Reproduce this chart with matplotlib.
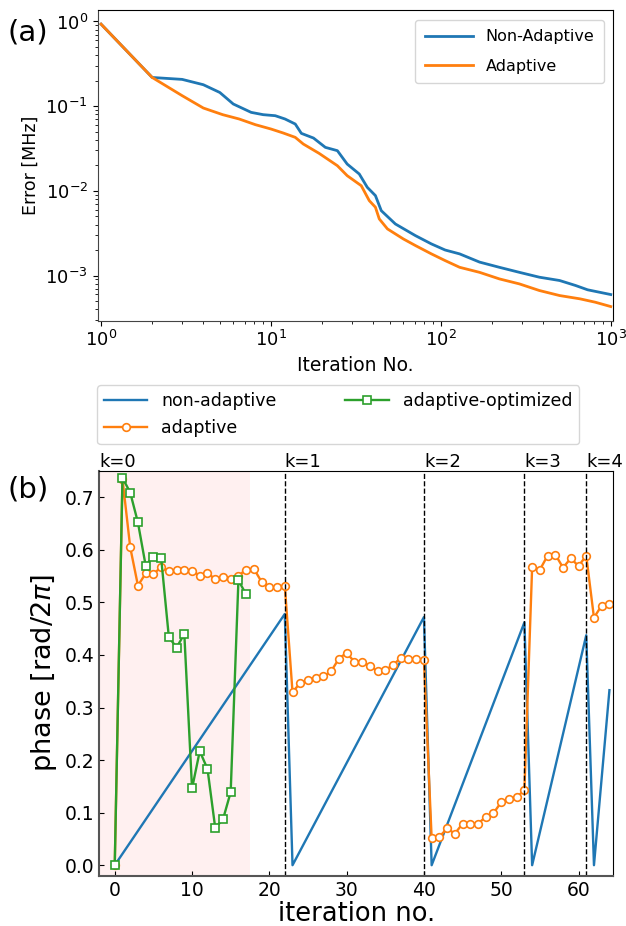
import numpy as np
import matplotlib
matplotlib.use("Agg")
import matplotlib.pyplot as plt

# (a) error vs iteration
iters_na = [1, 2, 3, 4, 5, 6, 7.65, 9, 10.6, 12.1, 13.9, 15.1, 17.8, 20.9, 24.6, 28.1, 33.1, 36.9,
            41.2, 44.6, 54, 70.8, 88, 106, 129, 169, 221, 290, 380, 500, 621, 731, 1000]
err_na = [0.93, 0.218, 0.207, 0.179, 0.145, 0.106, 0.0844, 0.0793, 0.0771, 0.0705, 0.0615, 0.0477,
          0.042, 0.0326, 0.0298, 0.0207, 0.0158, 0.011, 0.00878, 0.00583, 0.00406, 0.00296, 0.00236,
          0.0020, 0.0018, 0.00144, 0.00125, 0.00109, 0.000955, 0.000873, 0.000762, 0.000678, 0.000596]
iters_ad = [1, 2, 3, 4, 5.2, 6.5, 8.1, 10, 11.8, 13.9, 15.5, 19.2, 24.6, 28.1, 34.0, 37.9, 41.2, 43.4,
            48.5, 60.2, 70.8, 88, 106, 129, 169, 221, 290, 380, 500, 660, 810, 1000]
err_ad = [0.93, 0.218, 0.133, 0.095, 0.0793, 0.0705, 0.0604, 0.0537, 0.0482, 0.0428, 0.0357, 0.0277,
          0.0198, 0.0151, 0.0115, 0.00766, 0.0064, 0.00466, 0.00355, 0.0027, 0.00226, 0.0018, 0.0015,
          0.00125, 0.00109, 0.000912, 0.000796, 0.000665, 0.00058, 0.00053, 0.000484, 0.00043]

# (b) phase per iteration
# non-adaptive: sawtooth, vertices only
na_x = [0, 22, 23, 40, 41, 53, 54, 61, 62, 64]
na_phase = [0.0, 0.478, 0.0, 0.472, 0.0, 0.462, 0.0, 0.4375, 0.0, 0.333]

# adaptive, one value per iteration 0..64
ad_phase = [0.0, 0.735, 0.605, 0.532, 0.555, 0.554, 0.567, 0.559, 0.562, 0.562, 0.560,
            0.551, 0.556, 0.544, 0.548, 0.545, 0.551, 0.562, 0.564, 0.539, 0.529, 0.529, 0.532,
            0.329, 0.347, 0.352, 0.357, 0.359, 0.369, 0.393, 0.404, 0.387, 0.387, 0.379, 0.369,
            0.372, 0.380, 0.395, 0.393, 0.393, 0.390,
            0.051, 0.054, 0.070, 0.060, 0.079, 0.079, 0.079, 0.092, 0.099, 0.120, 0.125, 0.129, 0.143,
            0.567, 0.562, 0.589, 0.591, 0.566, 0.584, 0.569, 0.589,
            0.471, 0.494, 0.497]

# adaptive-optimized, iterations 0..17
opt_phase = [0.0, 0.737, 0.709, 0.652, 0.570, 0.587, 0.585, 0.434, 0.414, 0.440,
             0.146, 0.217, 0.183, 0.071, 0.087, 0.139, 0.542, 0.515]

k_starts = [22, 40, 53, 61]
k_labels = ["k=0", "k=1", "k=2", "k=3", "k=4"]

fig = plt.figure(figsize=(6.26, 9.26), dpi=100)

# ---- panel (a)
ax1 = fig.add_axes([0.156, 0.6537, 0.8237, 0.3355])
ax1.loglog(iters_na, err_na, color="#1f77b4", lw=2, label="Non-Adaptive")
ax1.loglog(iters_ad, err_ad, color="#ff7f0e", lw=2, label="Adaptive")
ax1.set_xlim(0.955, 1035)
ax1.set_xlabel("Iteration No.", fontsize=13.5)
ax1.set_ylabel("Error [MHz]", fontsize=12.5)
ax1.tick_params(labelsize=13)
ax1.legend(loc="upper right", fontsize=11.5, handlelength=3, labelspacing=0.9,
           borderpad=0.6, borderaxespad=0.6)
for s in ["left", "bottom"]:
    ax1.spines[s].set_color("#444444")
fig.text(0.012, 0.965, "(a)", fontsize=21, va="center")

# ---- panel (b)
ax2 = fig.add_axes([0.1586, 0.0543, 0.8211, 0.4371])
ax2.axvspan(-2, 17.5, color="#fff0f0", lw=0, zorder=0)
l1, = ax2.plot(na_x, na_phase, color="#1f77b4", lw=1.7, label="non-adaptive")
l2, = ax2.plot(range(len(ad_phase)), ad_phase, color="#ff7f0e", lw=1.7, marker="o", ms=5.5,
               mfc="white", mew=1.2, label="adaptive")
l3, = ax2.plot(range(len(opt_phase)), opt_phase, color="#2ca02c", lw=1.7, marker="s", ms=6,
               mfc="white", mew=1.2, label="adaptive-optimized")
for xk in k_starts:
    ax2.axvline(xk, color="black", ls="--", lw=1)
for xk, lab in zip([-2] + k_starts, k_labels):
    ax2.text(xk, 0.75, lab, fontsize=13, ha="left", va="bottom")
ax2.set_xlim(-2, 64.5)
ax2.set_ylim(-0.02, 0.75)
ax2.set_xticks([0, 10, 20, 30, 40, 50, 60])
ax2.set_yticks([0.0, 0.1, 0.2, 0.3, 0.4, 0.5, 0.6, 0.7])
ax2.tick_params(direction="in", labelsize=13.5)
ax2.set_xlabel("iteration no.", fontsize=18.5, labelpad=1)
ax2.set_ylabel(r"phase [rad/2$\pi$]", fontsize=19.5)
for s in ["left", "bottom"]:
    ax2.spines[s].set_color("#555555")
    ax2.spines[s].set_linewidth(1.5)
fig.legend(handles=[l1, l2, l3], loc="lower left", ncol=2, mode="expand", borderaxespad=0,
           bbox_to_anchor=(0.155, 0.5205, 0.77, 0.066), fontsize=12.5, handlelength=2.5)
fig.text(0.012, 0.471, "(b)", fontsize=21, va="center")

fig.savefig("out.png", dpi=100)
